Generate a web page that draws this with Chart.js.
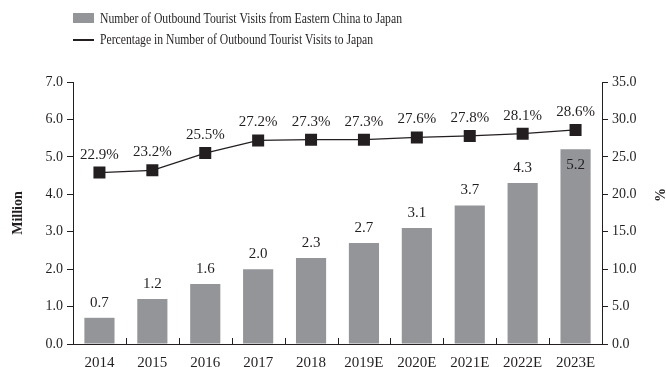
<!DOCTYPE html>
<html>
<head>
<meta charset="utf-8">
<script src="https://cdn.jsdelivr.net/npm/chart.js@4.4.1/dist/chart.umd.min.js"></script>
<style>
  html, body { margin: 0; padding: 0; background: #fff; }
  #wrap { position: relative; width: 666px; height: 367px; }
</style>
</head>
<body>
<div id="wrap"><canvas id="chart" width="666" height="367"></canvas></div>
<script>
// ── Data ─────────────────────────────────────────────────
const years      = ['2014', '2015', '2016', '2017', '2018', '2019E', '2020E', '2021E', '2022E', '2023E'];
const visits     = [0.7, 1.2, 1.6, 2.0, 2.3, 2.7, 3.1, 3.7, 4.3, 5.2];        // million
const shares     = [22.9, 23.2, 25.5, 27.2, 27.3, 27.3, 27.6, 27.8, 28.1, 28.6]; // %
const leftTicks  = [0, 1, 2, 3, 4, 5, 6, 7];
const rightTicks = [0, 5, 10, 15, 20, 25, 30, 35];

const barLabel  = 'Number of Outbound Tourist Visits from Eastern China to Japan';
const lineLabel = 'Percentage in Number of Outbound Tourist Visits to Japan';

const INK   = '#231f20';
const GREY  = '#939598';
const FONT  = '"Liberation Serif", "Times New Roman", serif';

// ── Plugins ──────────────────────────────────────────────
// legend block, stacked in two rows at the top left (text set a bit condensed)
const legendBlock = {
    id: 'legendBlock',
    afterDraw(chart) {
        const ctx = chart.ctx;
        const x0  = chart.chartArea.left;
        ctx.save();
        ctx.font = '14px ' + FONT;
        ctx.textBaseline = 'middle';
        ctx.fillStyle = GREY;
        ctx.fillRect(x0, 13, 21, 10);
        ctx.fillStyle = INK;
        ctx.fillText(barLabel, x0 + 27, 19, 302);
        ctx.strokeStyle = INK;
        ctx.lineWidth = 2;
        ctx.beginPath();
        ctx.moveTo(x0, 40);
        ctx.lineTo(x0 + 21, 40);
        ctx.stroke();
        ctx.fillText(lineLabel, x0 + 27, 40, 273);
        ctx.restore();
    }
};

// small upward ticks between categories on the x axis
const innerTicks = {
    id: 'innerTicks',
    afterDatasetsDraw(chart) {
        const { ctx, chartArea } = chart;
        const xs = chart.scales.x;
        ctx.save();
        ctx.strokeStyle = INK;
        ctx.lineWidth = 1;
        ctx.beginPath();
        for (let i = 1; i < years.length; i++) {
            const px = Math.round(xs.getPixelForValue(i - 0.5)) + 0.5;
            ctx.moveTo(px, chartArea.bottom);
            ctx.lineTo(px, chartArea.bottom - 6);
        }
        ctx.stroke();
        ctx.restore();
    }
};

// value labels: bars and percentage points
const valueLabels = {
    id: 'valueLabels',
    afterDatasetsDraw(chart) {
        const ctx = chart.ctx;
        const bars = chart.getDatasetMeta(0).data;
        const pts  = chart.getDatasetMeta(1).data;
        ctx.save();
        ctx.font = '15px ' + FONT;
        ctx.fillStyle = INK;
        ctx.textAlign = 'center';
        ctx.textBaseline = 'middle';
        bars.forEach((bar, i) => {
            // put the label inside the bar when the line marker sits right above it
            const inside = bar.y - pts[i].y < 30;
            ctx.fillText(visits[i].toFixed(1), bar.x, inside ? bar.y + 16 : bar.y - 15);
        });
        pts.forEach((pt, i) => {
            ctx.fillText(shares[i].toFixed(1) + '%', pt.x, pt.y - 18);
        });
        // right axis unit
        ctx.font = 'bold 14px ' + FONT;
        ctx.translate(661, 195);
        ctx.rotate(-Math.PI / 2);
        ctx.fillText('%', 0, 0);
        ctx.restore();
    }
};

// ── Chart ────────────────────────────────────────────────
Chart.defaults.font.family = FONT;
Chart.defaults.color = INK;

new Chart(document.getElementById('chart').getContext('2d'), {
    data: {
        labels: years,
        datasets: [
            {
                type: 'bar',
                label: barLabel,
                data: visits,
                yAxisID: 'y',
                backgroundColor: GREY,
                borderWidth: 0,
                barPercentage: 0.57,
                categoryPercentage: 1.0,
                order: 2,
            },
            {
                type: 'line',
                label: lineLabel,
                data: shares,
                yAxisID: 'y1',
                borderColor: INK,
                borderWidth: 1.3,
                backgroundColor: INK,
                pointStyle: 'rect',
                pointRadius: 8.5,
                pointBorderWidth: 0,
                tension: 0,
                order: 1,
            },
        ],
    },
    options: {
        responsive: false,
        animation: false,
        layout: { padding: { top: 82, left: 0, right: 0, bottom: 0 } },
        plugins: {
            legend: { display: false },
            tooltip: { enabled: false },
        },
        scales: {
            x: {
                offset: true,
                grid: { display: false },
                border: { display: true, color: INK, width: 1 },
                ticks: { font: { size: 15 }, padding: 2, maxRotation: 0 },
                afterFit: s => { s.height = 23; },
            },
            y: {
                position: 'left',
                min: 0,
                max: 7,
                afterBuildTicks: s => { s.ticks = leftTicks.map(v => ({ value: v })); },
                ticks: { font: { size: 14 }, padding: 4, callback: v => v.toFixed(1) },
                grid: { drawOnChartArea: false, drawTicks: true, tickLength: 6, color: INK },
                border: { display: true, color: INK, width: 1 },
                title: { display: true, text: 'Million', font: { size: 14, weight: 'bold' }, padding: { top: 10, bottom: 0 } },
                afterFit: s => { s.width = 73; },
            },
            y1: {
                position: 'right',
                min: 0,
                max: 35,
                afterBuildTicks: s => { s.ticks = rightTicks.map(v => ({ value: v })); },
                ticks: { font: { size: 14 }, padding: 4, callback: v => v.toFixed(1) },
                grid: { drawOnChartArea: false, drawTicks: true, tickLength: 6, color: INK },
                border: { display: true, color: INK, width: 1 },
                afterFit: s => { s.width = 64; },
            },
        },
    },
    plugins: [innerTicks, valueLabels, legendBlock],
});
</script>
</body>
</html>
